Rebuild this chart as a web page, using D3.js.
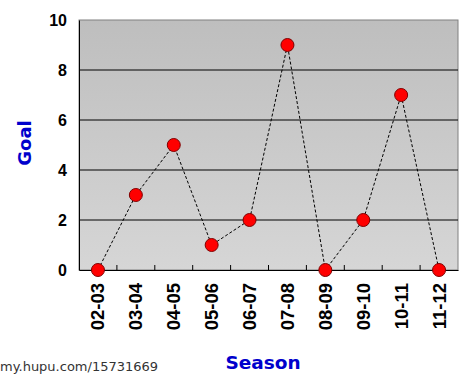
<!DOCTYPE html>
<html><head><meta charset="utf-8">
<script src="https://cdn.jsdelivr.net/npm/d3@7"></script>
<style>body{margin:0;background:#fff}svg{display:block}</style>
</head><body>
<script>
const seasons = ["02-03","03-04","04-05","05-06","06-07","07-08","08-09","09-10","10-11","11-12"];
const goals = [0,3,5,1,2,9,0,2,7,0];
const yTicks = [0,2,4,6,8,10];

const W=469,H=378;
const m={left:79,top:20,right:11,bottom:108};
const svg=d3.select("body").append("svg").attr("width",W).attr("height",H);
const defs=svg.append("defs");
const g0=defs.append("linearGradient").attr("id","bg").attr("x1",0).attr("y1",0).attr("x2",0).attr("y2",1);
g0.append("stop").attr("offset","0%").attr("stop-color","#bebebe");
g0.append("stop").attr("offset","100%").attr("stop-color","#d6d6d6");

const x=d3.scaleBand().domain(seasons).range([m.left,W-m.right]);
const y=d3.scaleLinear().domain([0,10]).range([H-m.bottom,m.top]);

svg.append("rect").attr("x",m.left).attr("y",m.top).attr("width",W-m.right-m.left).attr("height",H-m.bottom-m.top)
  .attr("fill","url(#bg)").attr("stroke","#808080").attr("stroke-width",1);

svg.append("g").selectAll("line").data(yTicks.slice(1,-1)).join("line")
  .attr("x1",m.left).attr("x2",W-m.right).attr("y1",d=>y(d)).attr("y2",d=>y(d))
  .attr("stroke","#000").attr("stroke-width",1);

const ya=svg.append("g").attr("transform",`translate(${m.left},0)`)
  .call(d3.axisLeft(y).tickValues(yTicks).tickSize(0).tickPadding(12));
ya.select(".domain").attr("stroke","#000");
ya.selectAll("text").attr("font-family","Arial, Liberation Sans, sans-serif").attr("font-weight","bold").attr("font-size",16).attr("fill","#000");

const xa=svg.append("g").attr("transform",`translate(0,${H-m.bottom})`)
  .call(d3.axisBottom(x).tickSize(0));
xa.select(".domain").attr("stroke","#000");
xa.selectAll(".tick line").remove();
xa.selectAll("text").attr("font-family","Arial, Liberation Sans, sans-serif").attr("font-weight","bold").attr("font-size",18.5).attr("fill","#000")
  .attr("transform","rotate(-90)").attr("text-anchor","end").attr("dx","-13").attr("dy","0.35em").attr("y",0).attr("x",0);
svg.append("g").selectAll("line").data(seasons.slice(1)).join("line")
  .attr("x1",d=>x(d)).attr("x2",d=>x(d)).attr("y1",H-m.bottom).attr("y2",H-m.bottom-5)
  .attr("stroke","#000");

const line=d3.line().x((d,i)=>x(seasons[i])+x.bandwidth()/2).y(d=>y(d));
svg.append("path").datum(goals).attr("d",line).attr("fill","none").attr("stroke","#000").attr("stroke-width",1).attr("stroke-dasharray","3,2");

svg.append("g").selectAll("circle").data(goals).join("circle")
  .attr("cx",(d,i)=>x(seasons[i])+x.bandwidth()/2).attr("cy",d=>y(d)).attr("r",6.5)
  .attr("fill","#ff0000").attr("stroke","#800000").attr("stroke-width",1);

svg.append("text").attr("transform",`translate(31,${(m.top+H-m.bottom)/2 - 2}) rotate(-90)`)
  .attr("text-anchor","middle").attr("font-family","Verdana, DejaVu Sans, sans-serif").attr("font-weight","bold").attr("font-size",18).attr("fill","#0000cc").text("Goal");
svg.append("text").attr("x",263).attr("y",369).attr("text-anchor","middle").attr("font-family","Verdana, DejaVu Sans, sans-serif").attr("font-weight","bold").attr("font-size",18.5).attr("fill","#0000cc").text("Season");
svg.append("text").attr("x",0).attr("y",371).attr("font-family","DejaVu Sans, Verdana, sans-serif").attr("font-size",13).attr("fill","#333").text("my.hupu.com/15731669");
</script>
</body></html>
